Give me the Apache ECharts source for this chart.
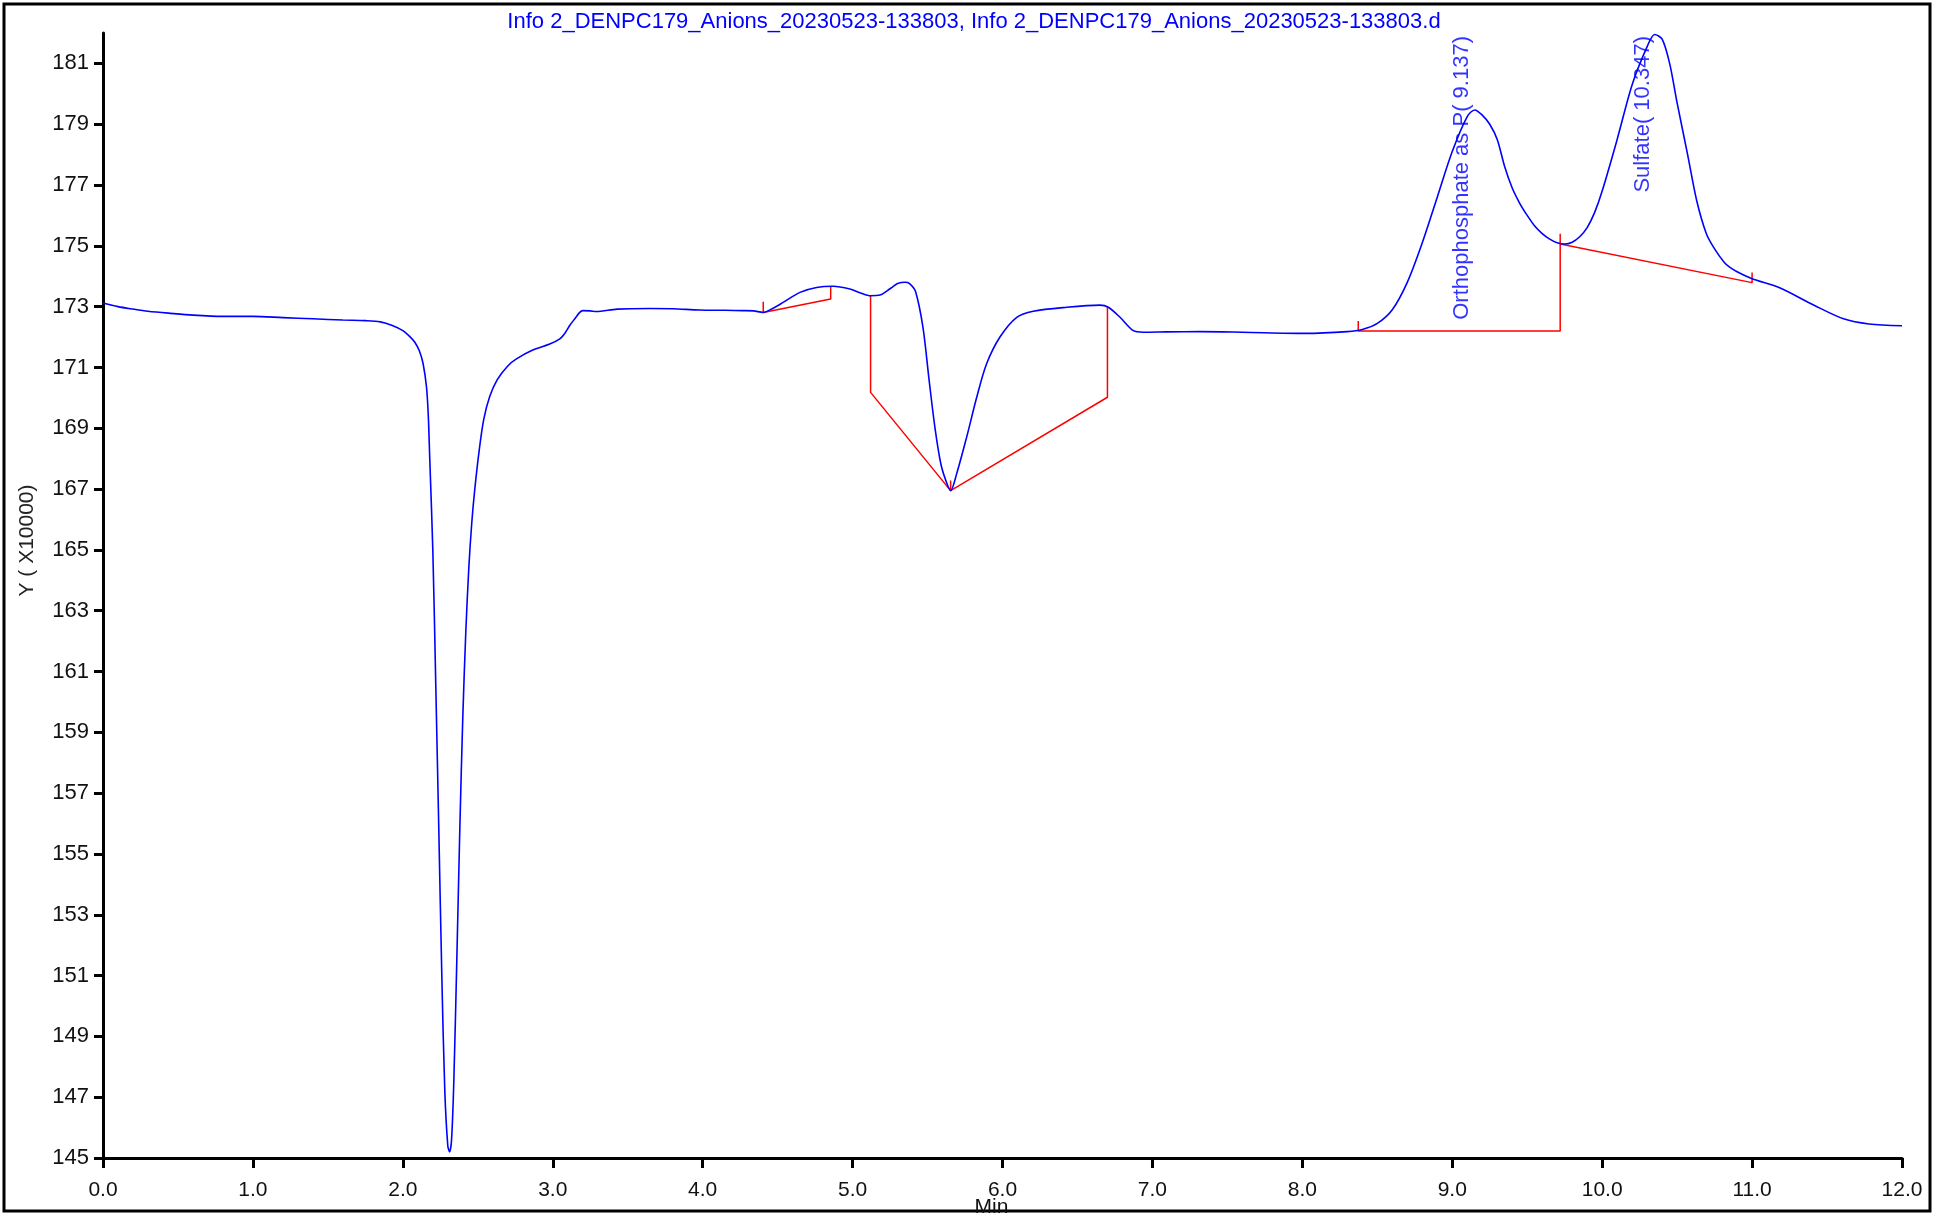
<!DOCTYPE html>
<html>
<head>
<meta charset="utf-8">
<title>Info 2_DENPC179_Anions</title>
<script src="https://cdn.jsdelivr.net/npm/echarts@6/dist/echarts.min.js"></script>
<style>
  html, body { margin: 0; padding: 0; background: #fff; }
  #chart { width: 1948px; height: 1214px; }
</style>
</head>
<body>
<div id="chart"></div>
<script>
// chromatogram data (Min, Y x10000)
const times = [
  0.00, 0.10, 0.20, 0.30, 0.45, 0.60, 0.80, 1.00, 1.20, 1.40, 1.60, 1.75, 1.85, 1.93, 2.00,
  2.05, 2.08, 2.11, 2.135, 2.158, 2.17, 2.18, 2.20, 2.22, 2.24, 2.26, 2.28, 2.30, 2.312, 2.325,
  2.34, 2.36, 2.38, 2.40, 2.42, 2.44, 2.46, 2.48, 2.51, 2.54, 2.58, 2.63, 2.70, 2.758, 2.87, 2.98, 3.047,
  3.08, 3.113, 3.15, 3.18, 3.20, 3.25, 3.29, 3.43, 3.65, 3.80, 3.98, 4.15, 4.27, 4.34, 4.404,
  4.47, 4.537, 4.649, 4.76, 4.871, 4.982, 5.05, 5.12, 5.183, 5.23, 5.27, 5.30, 5.35, 5.38, 5.42, 5.47, 5.51, 5.55,
  5.59, 5.628, 5.654, 5.694, 5.761, 5.828, 5.894, 5.983, 6.095, 6.205, 6.428, 6.65, 6.706, 6.784, 6.873,
  6.94, 7.095, 7.318, 7.60, 8.02, 8.30, 8.40, 8.50, 8.60, 8.70, 8.80, 8.90, 9.00, 9.10, 9.15,
  9.20, 9.25, 9.30, 9.35, 9.40, 9.45, 9.50, 9.55, 9.60, 9.65, 9.70, 9.75, 9.80, 9.85, 9.90, 9.95,
  10.00, 10.10, 10.20, 10.30, 10.35, 10.40, 10.45, 10.50, 10.57, 10.63, 10.695, 10.75, 10.815, 10.85, 10.90,
  11.00, 11.18, 11.42, 11.61, 11.78, 12.00
];
const signal = [
  173.12, 173.00, 172.92, 172.85, 172.78, 172.72, 172.68, 172.68, 172.64, 172.60, 172.56, 172.54, 172.50, 172.38, 172.21,
  172.00, 171.83, 171.55, 171.13, 170.35, 169.40, 167.94, 165.00, 160.50, 155.80, 151.00, 147.20, 145.40, 145.20, 145.60,
  147.50, 151.50, 155.80, 159.50, 162.30, 164.40, 165.90, 167.00, 168.30, 169.30, 170.05, 170.60, 171.05, 171.28, 171.58, 171.77, 171.94,
  172.12, 172.38, 172.62, 172.81, 172.87, 172.86, 172.84, 172.92, 172.94, 172.93, 172.89, 172.88, 172.87, 172.86, 172.81,
  172.95, 173.14, 173.47, 173.63, 173.67, 173.58, 173.46, 173.36, 173.38, 173.52, 173.66, 173.76, 173.80, 173.76, 173.50, 172.30, 170.60, 169.00,
  167.80, 167.20, 166.95, 167.50, 168.71, 170.02, 171.12, 172.00, 172.65, 172.85, 172.98, 173.05, 172.98, 172.65, 172.21,
  172.16, 172.17, 172.18, 172.16, 172.12, 172.18, 172.25, 172.45, 172.90, 173.80, 175.10, 176.60, 178.10, 179.25, 179.47,
  179.30, 179.00, 178.50, 177.60, 176.90, 176.40, 176.00, 175.65, 175.40, 175.22, 175.10, 175.06, 175.12, 175.30, 175.60, 176.10,
  176.80, 178.50, 180.30, 181.55, 181.95, 181.80, 181.00, 179.70, 178.00, 176.50, 175.40, 174.90, 174.45, 174.30, 174.15,
  173.92, 173.63, 173.03, 172.60, 172.43, 172.37
];

// integration baselines / drop lines
const baselineMarks = [
  [[4.404, 173.16], [4.404, 172.81], [4.854, 173.25], [4.854, 173.67]],
  [[5.12, 173.36], [5.12, 170.18], [5.654, 166.95], [6.70, 170.02], [6.70, 172.98]],
  [[5.654, 167.28], [5.654, 166.95]],
  [[8.373, 172.53], [8.373, 172.20], [9.72, 172.20], [9.72, 175.40]],
  [[9.72, 175.06], [11.0, 173.79], [11.0, 174.12]]
];

const peakNames = ['Orthophosphate as P( 9.137)', 'Sulfate( 10.347)'];
const peakTimes = [9.137, 10.347];
const labelTop = 181.9;

const yTicks = [145, 147, 149, 151, 153, 155, 157, 159, 161, 163, 165, 167, 169, 171, 173, 175, 177, 179, 181];

const titleText = 'Info 2_DENPC179_Anions_20230523-133803, Info 2_DENPC179_Anions_20230523-133803.d';

const narrowFont = "'Liberation Sans Narrow', 'Liberation Sans', Arial, sans-serif";
const plainFont = "'Liberation Sans', Arial, sans-serif";

const chart = echarts.init(document.getElementById('chart'));

const traceData = times.map((t, i) => [t, signal[i]]);

const markSeries = baselineMarks.map(seg => ({
    type: 'line',
    data: seg,
    showSymbol: false,
    symbol: 'none',
    silent: true,
    lineStyle: { color: '#ff0000', width: 1.5 },
    z: 3
}));

const option = {
    animation: false,
    backgroundColor: '#ffffff',
    title: {
        text: titleText,
        left: 'center',
        top: 6,
        textStyle: {
            color: '#0000ff',
            fontSize: 22,
            fontWeight: 'normal',
            fontFamily: narrowFont
        }
    },
    grid: {
        left: 103,
        right: 46,
        top: 33,
        bottom: 56,
        containLabel: false,
        outerBoundsMode: 'none'
    },
    xAxis: {
        type: 'value',
        min: 0,
        max: 12,
        interval: 1,
        name: 'Min',
        nameLocation: 'middle',
        nameGap: 39,
        nameMoveOverlap: false,
        nameTextStyle: { color: '#111', fontSize: 21, fontFamily: narrowFont, padding: [0, 22, 0, 0] },
        axisLine: { lineStyle: { color: '#000', width: 3 } },
        axisTick: { inside: false, length: 10, lineStyle: { color: '#000', width: 3 } },
        axisLabel: {
            color: '#111',
            fontSize: 21,
            fontFamily: narrowFont,
            margin: 22,
            formatter: v => v.toFixed(1)
        },
        splitLine: { show: false }
    },
    yAxis: {
        type: 'value',
        min: 145,
        max: 182,
        name: 'Y ( X10000)',
        nameLocation: 'middle',
        nameGap: 65,
        nameMoveOverlap: false,
        nameTextStyle: { color: '#222', fontSize: 21, fontFamily: plainFont, padding: [0, 0, 0, 110] },
        axisLine: { show: true, lineStyle: { color: '#000', width: 3 } },
        axisTick: {
            show: true,
            length: 9,
            customValues: yTicks,
            lineStyle: { color: '#000', width: 3 }
        },
        axisLabel: {
            color: '#111',
            fontSize: 22,
            fontFamily: narrowFont,
            margin: 14,
            customValues: yTicks
        },
        splitLine: { show: false }
    },
    graphic: [
        {
            type: 'rect',
            shape: { x: 4, y: 4, width: 1926, height: 1207 },
            style: { fill: 'none', stroke: '#000', lineWidth: 3 },
            silent: true,
            z: 0
        }
    ],
    series: [
        {
            name: 'trace',
            type: 'line',
            data: traceData,
            showSymbol: false,
            symbol: 'none',
            smooth: 0.3,
            lineStyle: { color: '#0000ff', width: 1.6 },
            z: 4
        },
        ...markSeries,
        {
            name: 'peaks',
            type: 'scatter',
            symbolSize: 0,
            silent: true,
            data: peakTimes.map((t, i) => ({ name: peakNames[i], value: [t, labelTop] })),
            label: {
                show: true,
                position: [0, 0],
                rotate: 90,
                align: 'right',
                verticalAlign: 'bottom',
                color: '#0000ff',
                fontSize: 22,
                fontFamily: plainFont,
                formatter: p => p.name
            },
            z: 5
        }
    ]
};

chart.setOption(option);
window.addEventListener('resize', () => chart.resize());
</script>
</body>
</html>
